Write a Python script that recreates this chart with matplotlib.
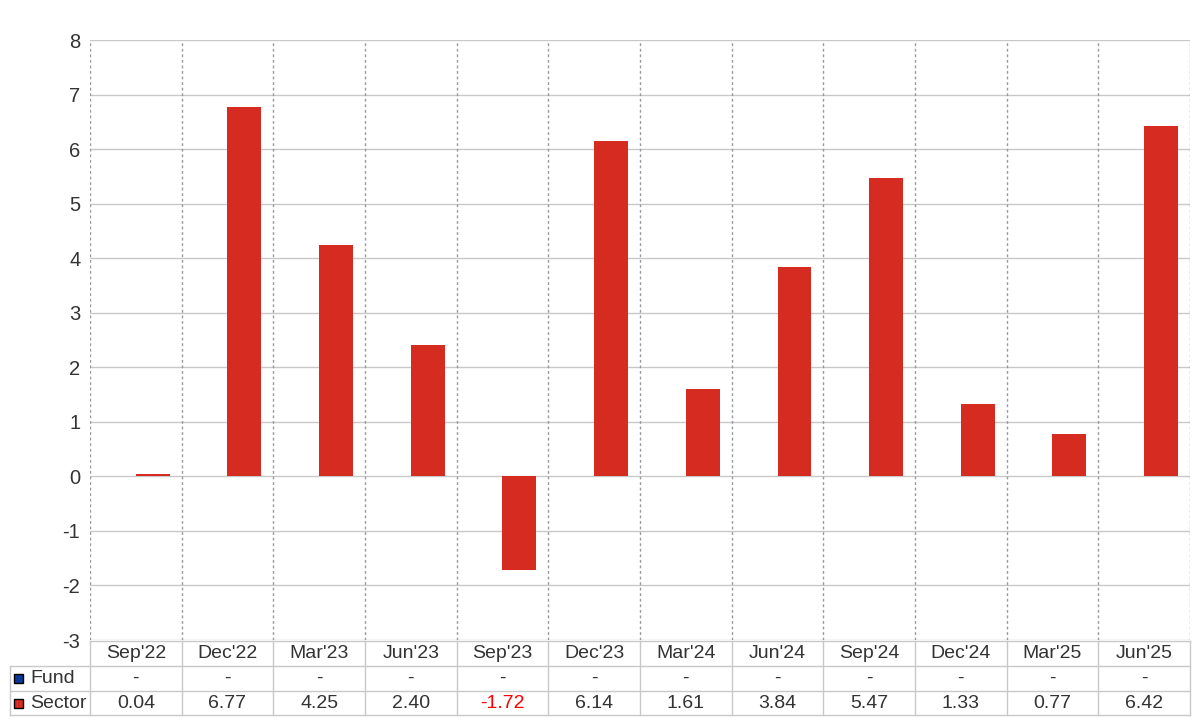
import numpy as np
import matplotlib
matplotlib.use("Agg")
import matplotlib.pyplot as plt
from matplotlib.patches import Rectangle

plt.rcParams['font.family'] = ['Liberation Sans', 'DejaVu Sans']

categories = ["Sep'22", "Dec'22", "Mar'23", "Jun'23", "Sep'23", "Dec'23",
              "Mar'24", "Jun'24", "Sep'24", "Dec'24", "Mar'25", "Jun'25"]
fund = [np.nan] * 12
sector = [0.04, 6.77, 4.25, 2.40, -1.72, 6.14, 1.61, 3.84, 5.47, 1.33, 0.77, 6.42]
series_names = ["Fund", "Sector"]
series_colors = ["#0a3a96", "#d62b20"]
yticks = list(range(-3, 9))

W, H = 1200, 720
fig = plt.figure(figsize=(12, 7.2), dpi=100)
ax = fig.add_axes([90 / W, (H - 640) / H, 1100 / W, 600 / H])
x = np.arange(len(categories))
bw = 0.37
ax.bar(x - bw / 2, fund, width=bw, color=series_colors[0], zorder=3)
ax.bar(x + bw / 2, sector, width=bw, color=series_colors[1], zorder=3)
ax.set_xlim(-0.5, len(categories) - 0.5)
ax.set_ylim(-3, 8)
ax.set_yticks(yticks)
ax.set_yticklabels([str(t) for t in yticks], fontsize=14.5, color="#333333")
ax.tick_params(axis='y', length=0, pad=7)
ax.set_xticks([])
for s in ax.spines.values():
    s.set_visible(False)
for t in yticks:
    ax.axhline(t, color="#c8c8c8", lw=1, zorder=1)
for b in np.arange(-0.5, len(categories), 1.0):
    ax.axvline(b, color="#999999", lw=1, ls=(0, (2, 2)), zorder=1)

# table axes
cw = 1100 / len(categories)
left_w = 80 / cw
tax = fig.add_axes([10 / W, (H - 715) / H, 1180 / W, 75 / H])
tax.set_xlim(-0.5 - left_w, len(categories) - 0.5)
tax.set_ylim(715, 640)
tax.axis('off')
lc = "#c8c8c8"
x0 = -0.5 - left_w
xe = len(categories) - 0.5
for yy in (666, 690.5, 714.5):
    tax.plot([x0, xe], [yy, yy], color=lc, lw=1, clip_on=False)
tax.plot([-0.5, xe], [640.5, 640.5], color=lc, lw=1, clip_on=False)
tax.plot([x0, x0], [666, 714.5], color=lc, lw=1, clip_on=False)
for b in np.arange(-0.5, len(categories), 1.0):
    tax.plot([b, b], [640.5, 714.5], color=lc, lw=1, clip_on=False)
fs = 14
for i, c in enumerate(categories):
    tax.text(i, 654, c, ha='center', va='center', fontsize=fs, color="#333333")
    tax.text(i, 678.5, "-" if np.isnan(fund[i]) else f"{fund[i]:.2f}",
             ha='center', va='center', fontsize=fs, color="#333333")
    v = sector[i]
    tax.text(i, 703, f"{v:.2f}", ha='center', va='center', fontsize=fs,
             color="#ff0000" if v < 0 else "#333333")
# legend-like labels
px = 1.0 / cw
for row_y, name, col in ((678.5, series_names[0], series_colors[0]),
                         (703, series_names[1], series_colors[1])):
    tax.add_patch(Rectangle((x0 + 4 * px, row_y - 4.5), 9 * px, 9,
                            facecolor=col, edgecolor="black", lw=1, clip_on=False))
    tax.text(x0 + 20 * px, row_y, name, ha='left', va='center', fontsize=fs, color="#333333")

fig.savefig("out.png", dpi=100)
